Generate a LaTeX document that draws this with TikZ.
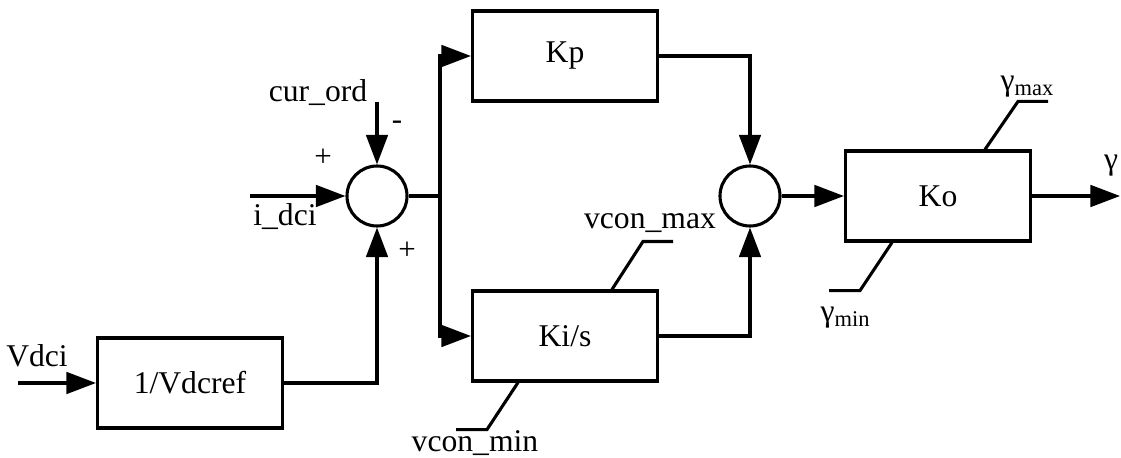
\documentclass[tikz,border=0pt]{standalone}
\usepackage{fontspec}
\setmainfont{Liberation Serif}
\usepackage{tikz}
\usetikzlibrary{positioning,arrows.meta}

\begin{document}
\begin{tikzpicture}[
  >={Triangle[length=7.4mm, width=5.4mm]},
  line width=2.2pt,
  blk/.style={draw, minimum width=46.25mm, minimum height=22.5mm,
              font=\fontsize{22.5}{27}\selectfont},
  sum/.style={draw, circle, minimum size=15mm, inner sep=0pt},
  lb/.style={font=\fontsize{22.5}{27}\selectfont, inner sep=0pt},
  sg/.style={font=\fontsize{22}{24}\selectfont, inner sep=0pt}]

  \useasboundingbox (0,0) rectangle (28.025,11.425);

  \node[blk] (vref) at (4.75,1.85) {1/Vdcref};
  \node[sum] (s1) at (9.425,6.525) {};
  \node[blk] (kp) at (14.125,10.025) {Kp};
  \node[blk] (ki) at (14.125,3.025) {Ki/s};
  \node[sum] (s2) at (18.75,6.525) {};
  \node[blk] (ko) at (23.45,6.525) {Ko};

  \coordinate (vin) at (0.45,1.85);
  \coordinate (iin) at (6.25,6.525);
  \coordinate (cin) at (9.425,8.875);
  \coordinate (j) at (11.0,6.525);
  \coordinate (yout) at (28.0,6.525);

  % inputs
  \draw[->] (vin) -- (vref);
  \draw[->] (vref.east) -| (s1.south);
  \draw[->] (iin) -- (s1.west);
  \draw[->] (cin) -- (s1.north);

  % PI branches
  \draw (s1.east) -- (j);
  \draw[->] (j) |- (kp.west);
  \draw[->] (j) |- (ki.west);
  \draw[->] (kp.east) -| (s2.north);
  \draw[->] (ki.east) -| (s2.south);
  \draw[->] (s2) -- (ko);
  \draw[->] (ko.east) -- (yout);

  % limiters
  \draw ([xshift=11.75mm]ki.north) -- ++(0.775,1.2) -- ++(0.75,0);
  \draw ([xshift=-11.75mm]ki.south) -- ++(-0.775,-1.175) -- ++(-0.775,0);
  \draw ([xshift=11.75mm]ko.north) -- ++(0.825,1.2) -- ++(0.75,0);
  \draw ([xshift=-11.5mm]ko.south) -- ++(-0.8,-1.2) -- ++(-0.775,0);

  \node[lb] (lvdci) at (0.925,2.525) {Vdci};
  \node[lb] (lcur) at (7.95,9.1) {cur\_ord};
  \node[lb] (lidci) at (7.125,6.0) {i\_dci};
  \node[sg] (pm) at (9.925,8.3) {-};
  \node[sg] (pa) at (8.075,7.475) {+};
  \node[sg] (pb) at (10.175,5.15) {+};
  \node[lb] (lvmax) at (16.25,5.85) {vcon\_max};
  \node[lb] (lvmin) at (11.875,0.35) {vcon\_min};
  \node[lb] (lgmax) at (25.675,9.25)
    {γ{\fontsize{16}{18}\selectfont\raisebox{-3pt}{max}}};
  \node[lb] (lgmin) at (21.125,3.475)
    {γ{\fontsize{16}{18}\selectfont\raisebox{-3pt}{min}}};
  \node[lb] (lg) at (27.775,7.275) {γ};
\end{tikzpicture}
\end{document}
